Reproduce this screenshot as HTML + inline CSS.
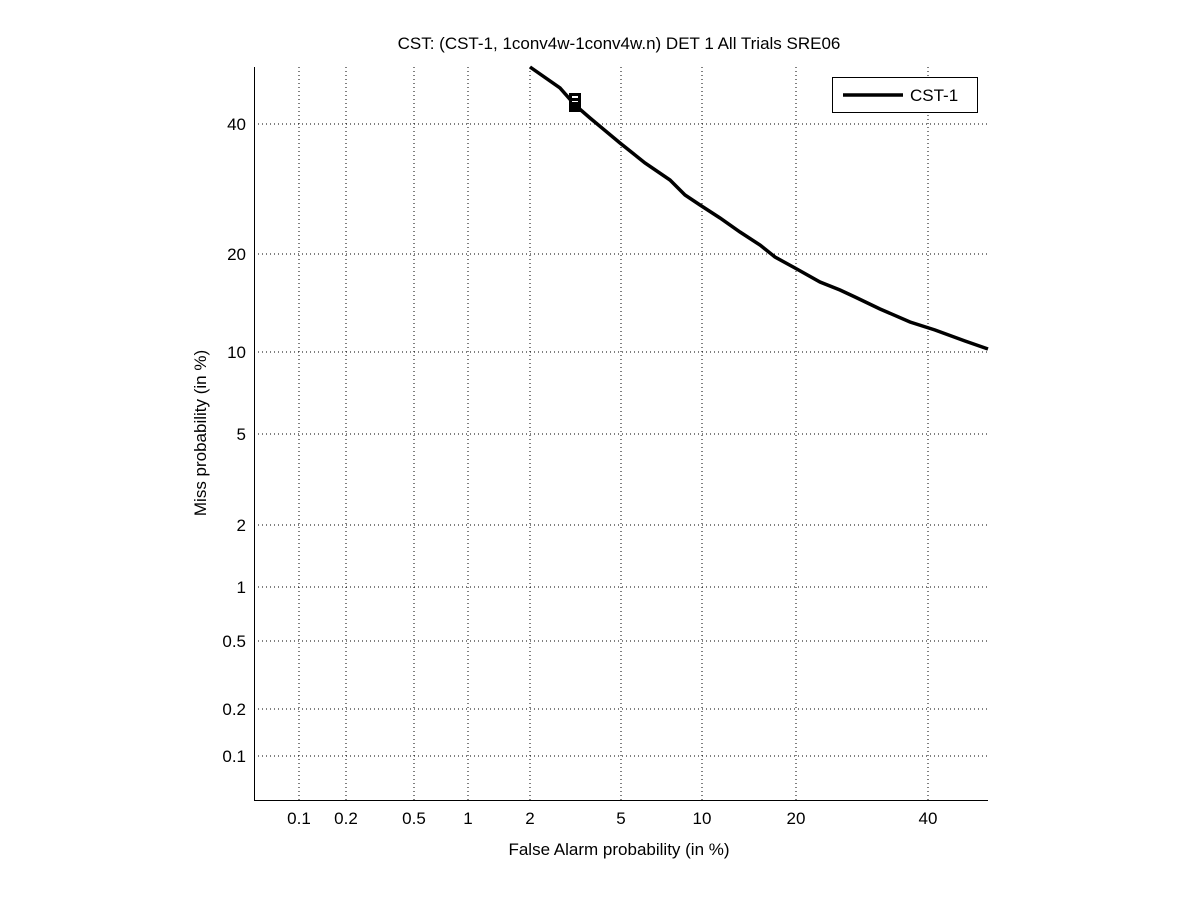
<!DOCTYPE html>
<html><head><style>body{margin:0;background:#fff}svg{display:block}text{font-family:"Liberation Sans",sans-serif;font-size:17px;fill:#000}</style></head><body>
<svg width="1201" height="900" xmlns="http://www.w3.org/2000/svg">
<g stroke="#000" stroke-width="1" stroke-dasharray="1,3">
<line x1="299" y1="67" x2="299" y2="800"/><line x1="346" y1="67" x2="346" y2="800"/><line x1="414" y1="67" x2="414" y2="800"/><line x1="468" y1="67" x2="468" y2="800"/><line x1="530" y1="67" x2="530" y2="800"/><line x1="621" y1="67" x2="621" y2="800"/><line x1="702" y1="67" x2="702" y2="800"/><line x1="796" y1="67" x2="796" y2="800"/><line x1="928" y1="67" x2="928" y2="800"/>
<line x1="254" y1="124" x2="988" y2="124"/><line x1="254" y1="254" x2="988" y2="254"/><line x1="254" y1="352" x2="988" y2="352"/><line x1="254" y1="434" x2="988" y2="434"/><line x1="254" y1="525" x2="988" y2="525"/><line x1="254" y1="587" x2="988" y2="587"/><line x1="254" y1="641" x2="988" y2="641"/><line x1="254" y1="709" x2="988" y2="709"/><line x1="254" y1="756" x2="988" y2="756"/>
</g>
<line x1="254.5" y1="67" x2="254.5" y2="800.5" stroke="#000"/><line x1="254" y1="800.5" x2="988" y2="800.5" stroke="#000"/>
<polyline fill="none" stroke="#000" stroke-width="3.5" points="530,67 560,88 575,105 590,118 620,143 645,163 670,180 685,195 700,205 720,218 740,232 760,245 775,257 795,268 820,282 840,290 855,297 880,309 910,322 935,330 965,341 988,349"/>
<rect x="569" y="93" width="12" height="19" fill="#000"/><rect x="572" y="96" width="6" height="2" fill="#fff"/><rect x="572" y="101" width="6" height="1" fill="#fff"/>
<rect x="832.5" y="77.5" width="145" height="35" fill="#fff" stroke="#000"/>
<line x1="843" y1="95" x2="903" y2="95" stroke="#000" stroke-width="3.5"/>
<text x="910" y="101">CST-1</text>
<g text-anchor="middle">
<text x="299" y="824">0.1</text><text x="346" y="824">0.2</text><text x="414" y="824">0.5</text><text x="468" y="824">1</text><text x="530" y="824">2</text><text x="621" y="824">5</text><text x="702" y="824">10</text><text x="796" y="824">20</text><text x="928" y="824">40</text>
<text x="619" y="855">False Alarm probability (in %)</text>
<text x="619" y="49">CST: (CST-1, 1conv4w-1conv4w.n) DET 1 All Trials SRE06</text>
</g>
<g text-anchor="end">
<text x="246" y="130">40</text><text x="246" y="260">20</text><text x="246" y="358">10</text><text x="246" y="440">5</text><text x="246" y="531">2</text><text x="246" y="593">1</text><text x="246" y="647">0.5</text><text x="246" y="715">0.2</text><text x="246" y="762">0.1</text>
</g>
<text transform="translate(206,433) rotate(-90)" text-anchor="middle">Miss probability (in %)</text>
</svg>
</body></html>
